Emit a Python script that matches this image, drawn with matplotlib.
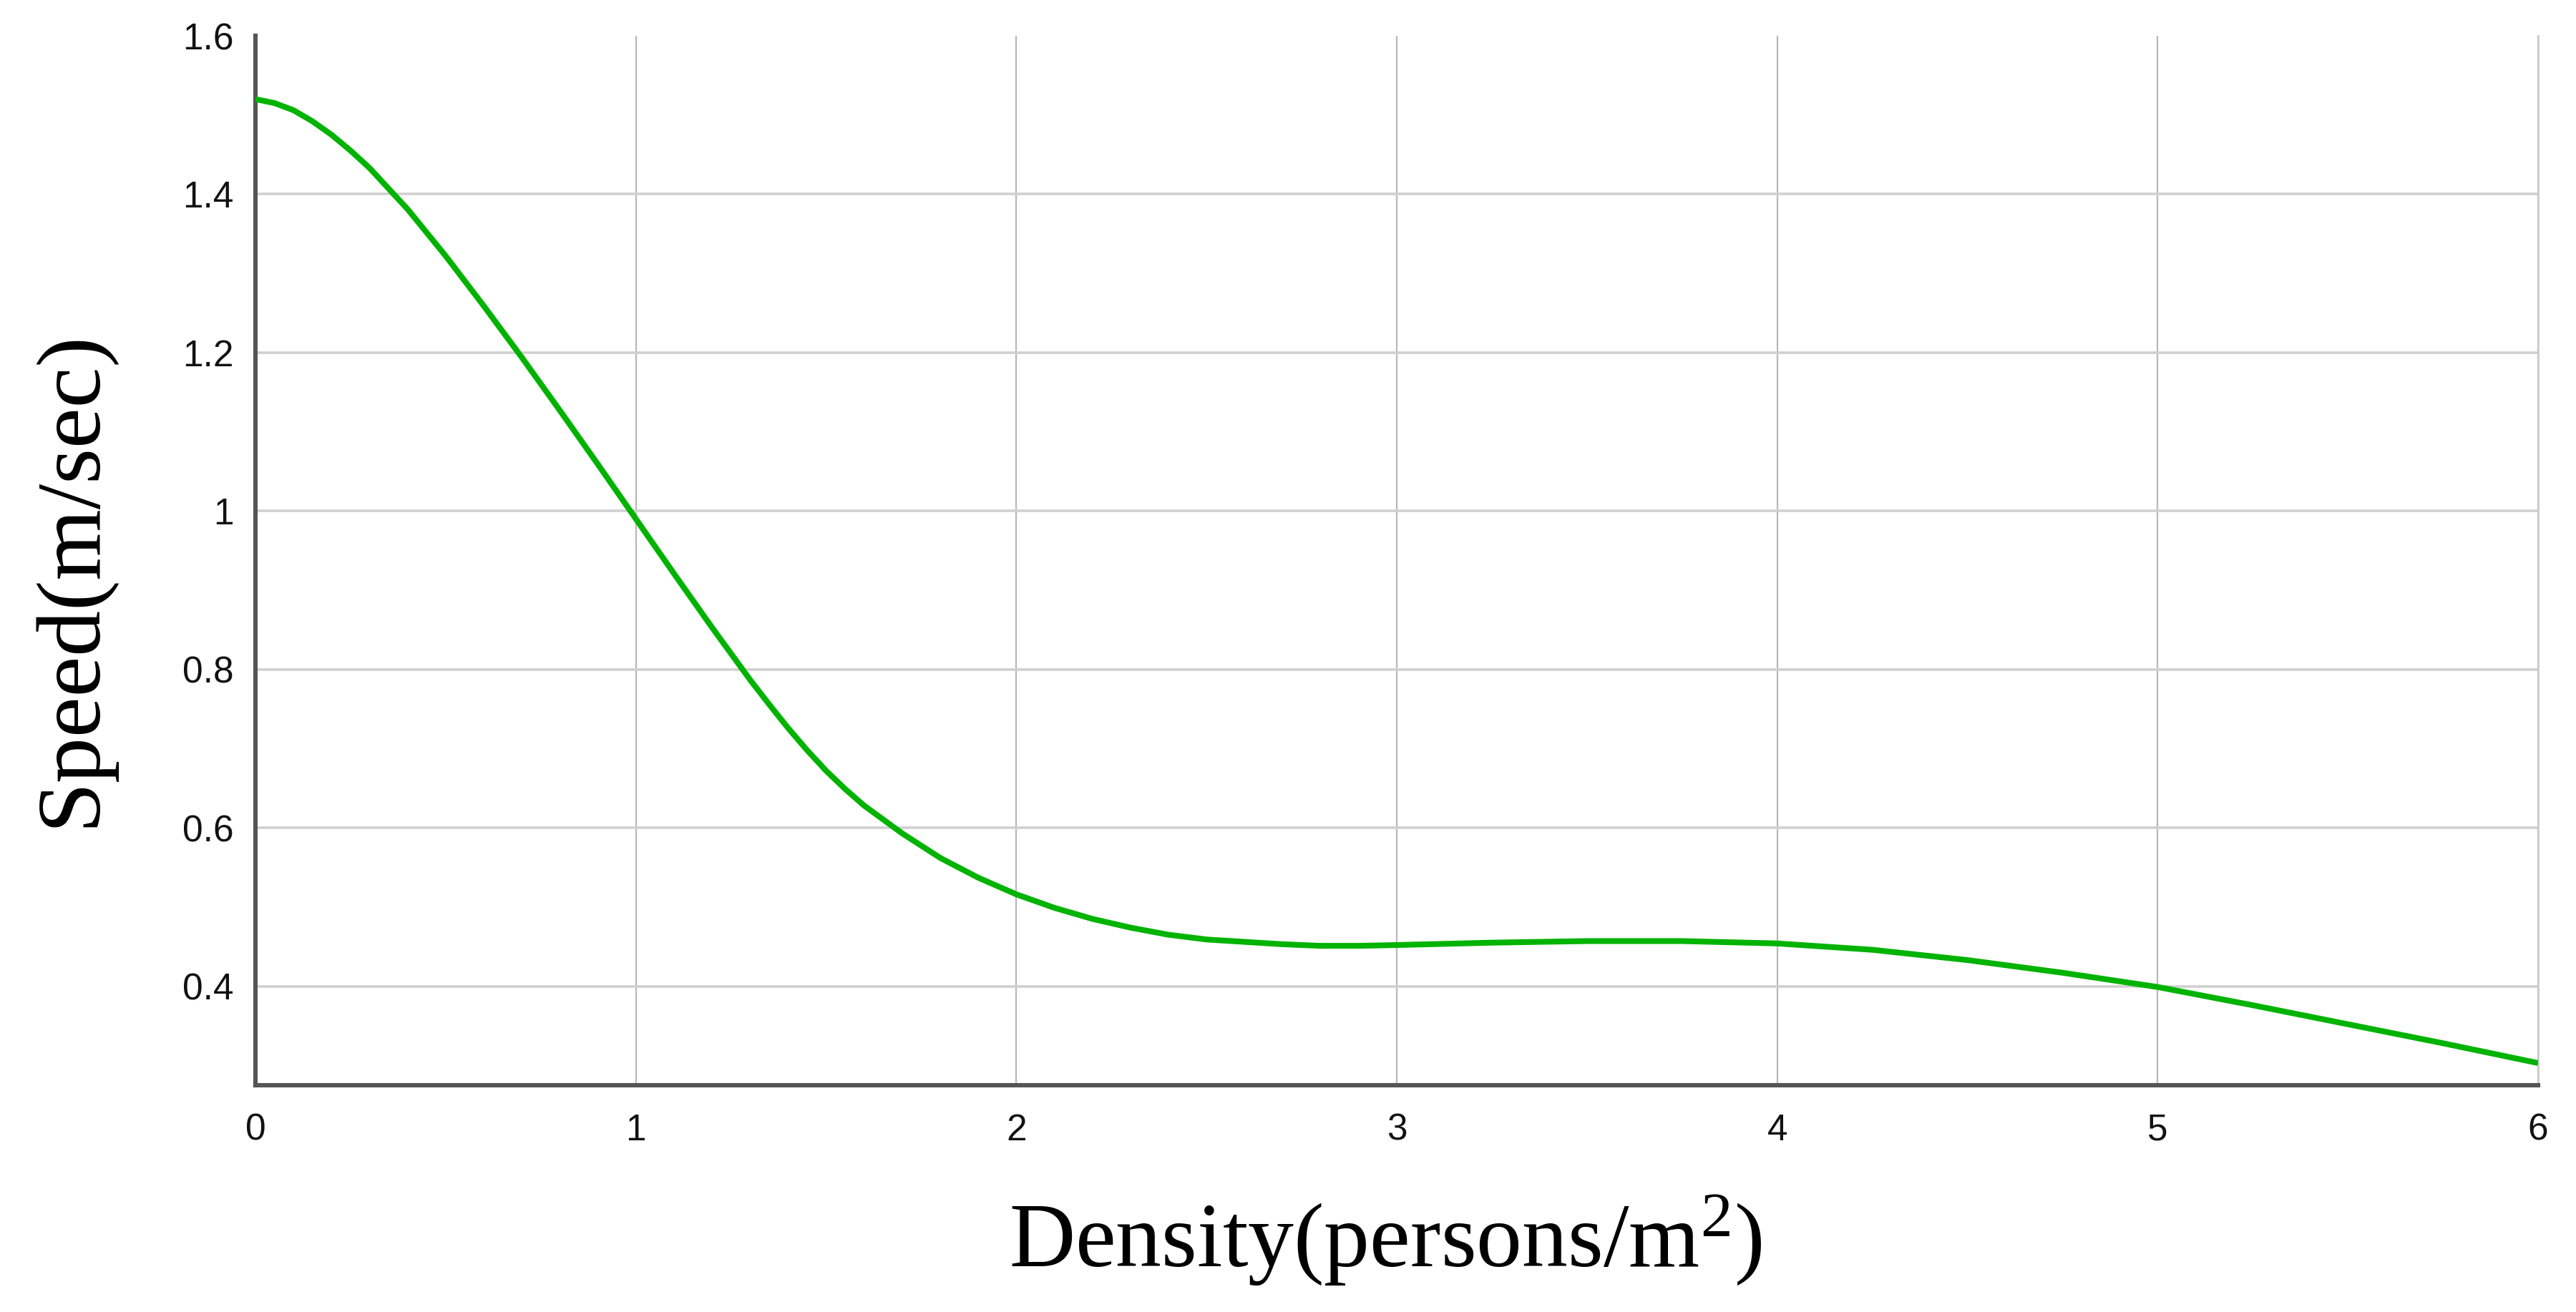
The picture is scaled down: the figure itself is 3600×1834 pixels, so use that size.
import matplotlib
matplotlib.use("Agg")
import matplotlib.pyplot as plt
from matplotlib.ticker import FuncFormatter

# speed-density curve
density = [0, 0.05, 0.1, 0.15, 0.2, 0.25, 0.3, 0.4, 0.5, 0.6, 0.7, 0.8, 0.9, 1.0,
           1.1, 1.2, 1.3, 1.35, 1.4, 1.45, 1.5, 1.55, 1.6, 1.7, 1.8, 1.9, 2.0,
           2.1, 2.2, 2.3, 2.4, 2.5, 2.6, 2.7, 2.8, 2.9, 3.0,
           3.25, 3.5, 3.75, 4.0, 4.25, 4.5, 4.75, 5.0, 5.25, 5.5, 5.75, 6.0]
speed = [1.520, 1.515, 1.506, 1.492, 1.475, 1.455, 1.433, 1.381, 1.322, 1.259, 1.194,
         1.127, 1.059, 0.990,
         0.921, 0.853, 0.787, 0.756, 0.726, 0.698, 0.672, 0.649, 0.628, 0.593, 0.562,
         0.537, 0.516,
         0.499, 0.485, 0.474, 0.465, 0.459, 0.456, 0.453, 0.451, 0.451, 0.452,
         0.455, 0.457, 0.457, 0.454, 0.446, 0.433, 0.417, 0.399, 0.376, 0.352, 0.328, 0.303]

xticks = [0, 1, 2, 3, 4, 5, 6]
yticks = [0.4, 0.6, 0.8, 1.0, 1.2, 1.4, 1.6]

plt.rcParams['mathtext.fontset'] = 'custom'
plt.rcParams['mathtext.rm'] = 'Liberation Serif'
plt.rcParams['mathtext.it'] = 'Liberation Serif'
plt.rcParams['mathtext.bf'] = 'Liberation Serif'

fig = plt.figure(figsize=(18, 9.17), dpi=200)
ax = fig.add_axes([357/3600, 1-1517/1834, (3547-357)/3600, (1517-50)/1834])

ax.plot(density, speed, color='#00b300', lw=2.9, solid_capstyle='butt',
        solid_joinstyle='round', zorder=3)

ax.set_xlim(0, 6)
ax.set_ylim(0.275, 1.6)
ax.set_xticks(xticks)
ax.set_yticks(yticks)
ax.yaxis.set_major_formatter(FuncFormatter(lambda v, p: '%g' % v))

ax.grid(axis='x', color='#b8b8b8', lw=0.8)
ax.grid(axis='y', color='#d0d0d0', lw=1.3)
ax.yaxis.get_gridlines()[-1].set_visible(False)
ax.set_axisbelow(True)

ax.spines['top'].set_visible(False)
ax.spines['right'].set_color('#cccccc')
ax.spines['right'].set_linewidth(1.0)
for s in ['left', 'bottom']:
    ax.spines[s].set_color('#555555')
    ax.spines[s].set_linewidth(2.2)

ax.tick_params(length=0, labelsize=18.5, colors='#111111')
ax.tick_params(axis='x', pad=14)
ax.tick_params(axis='y', pad=11)
for lab in ax.get_xticklabels() + ax.get_yticklabels():
    lab.set_family('Liberation Sans')

fig.text(0.538, 0.035, 'Density(persons/m$^{2}$)', ha='center', va='baseline',
         fontsize=46, family='Liberation Serif')
fig.text(0.028, 0.559, 'Speed(m/sec)', ha='center', va='center', rotation=90,
         fontsize=46, family='Liberation Serif')

fig.savefig('out.png', dpi=200, facecolor='white')
